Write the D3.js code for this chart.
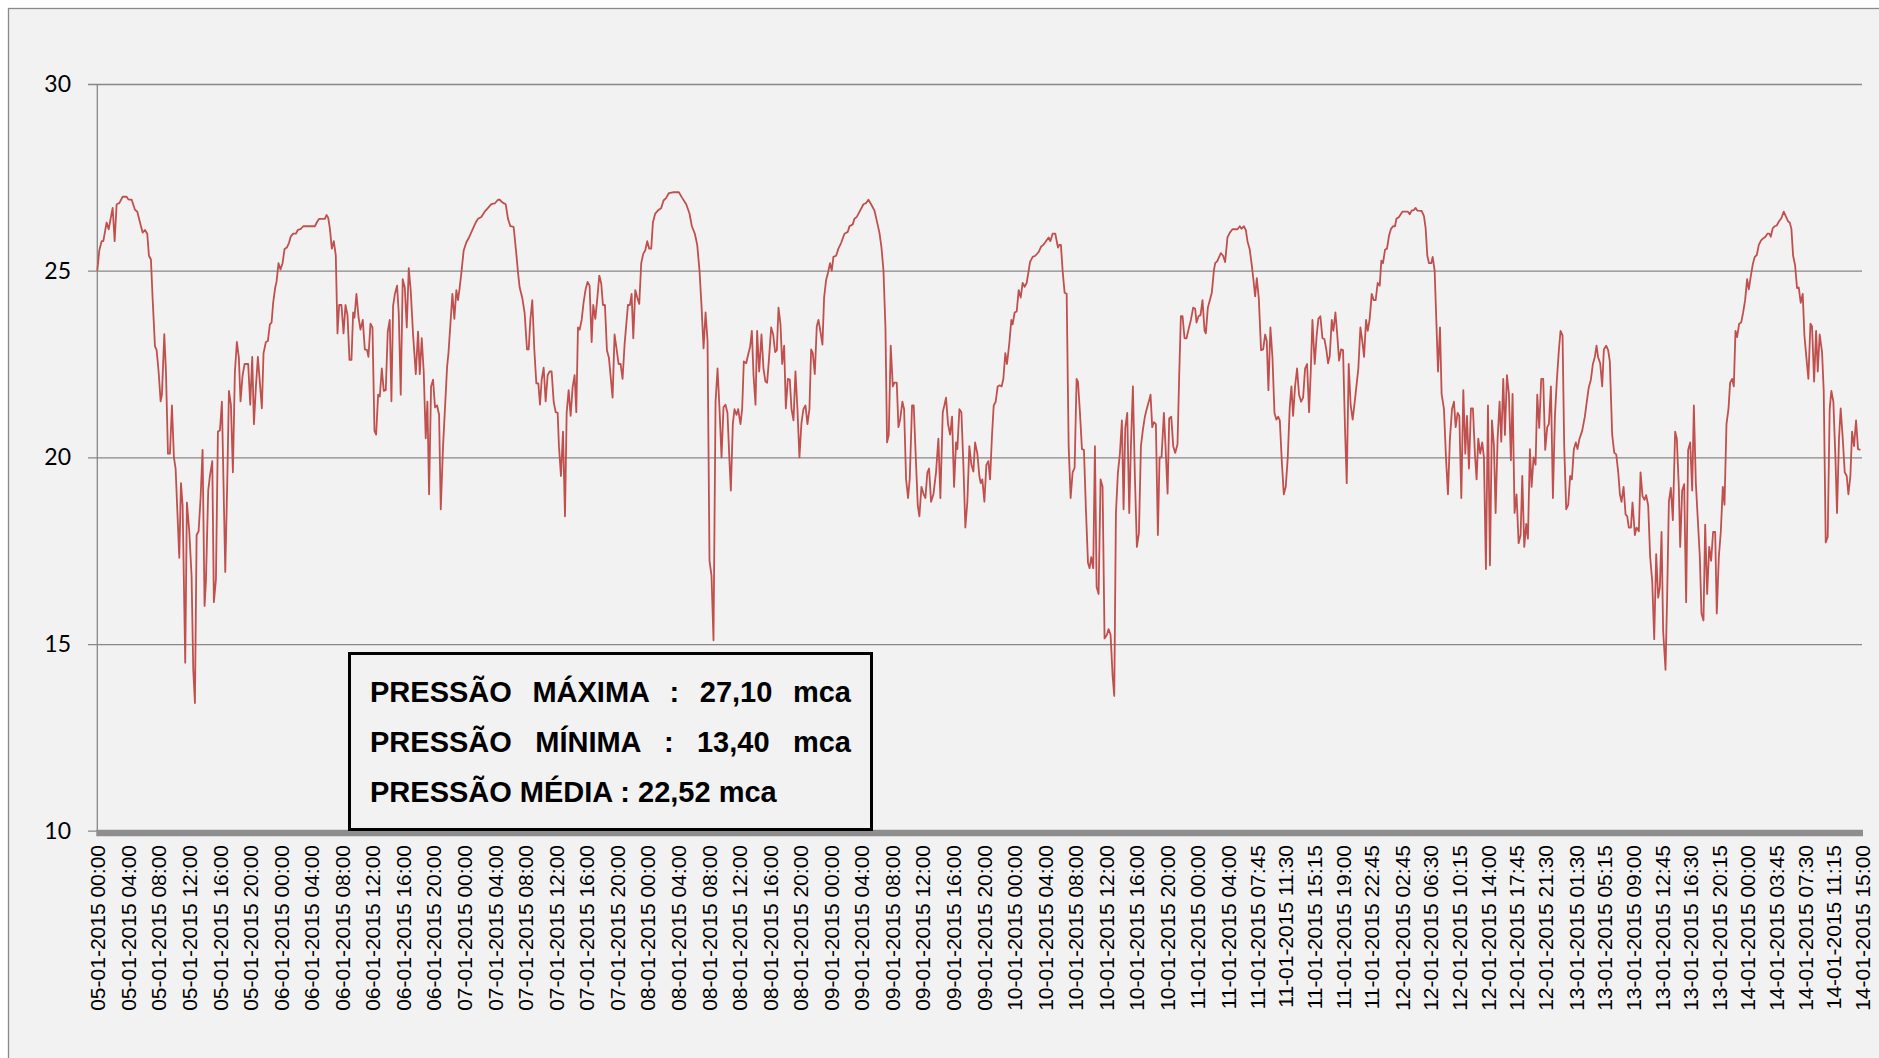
<!DOCTYPE html>
<html><head><meta charset="utf-8">
<script src="https://cdn.jsdelivr.net/npm/d3@7"></script>
<style>html,body{margin:0;padding:0;background:#fff;overflow:hidden}</style>
</head><body>
<svg id="c" width="1879" height="1058"></svg>
<script>
// ---- data ----
const yTicks = [10, 15, 20, 25, 30];
const tickLabels = [
 "05-01-2015 00:00","05-01-2015 04:00","05-01-2015 08:00","05-01-2015 12:00","05-01-2015 16:00","05-01-2015 20:00",
 "06-01-2015 00:00","06-01-2015 04:00","06-01-2015 08:00","06-01-2015 12:00","06-01-2015 16:00","06-01-2015 20:00",
 "07-01-2015 00:00","07-01-2015 04:00","07-01-2015 08:00","07-01-2015 12:00","07-01-2015 16:00","07-01-2015 20:00",
 "08-01-2015 00:00","08-01-2015 04:00","08-01-2015 08:00","08-01-2015 12:00","08-01-2015 16:00","08-01-2015 20:00",
 "09-01-2015 00:00","09-01-2015 04:00","09-01-2015 08:00","09-01-2015 12:00","09-01-2015 16:00","09-01-2015 20:00",
 "10-01-2015 00:00","10-01-2015 04:00","10-01-2015 08:00","10-01-2015 12:00","10-01-2015 16:00","10-01-2015 20:00",
 "11-01-2015 00:00","11-01-2015 04:00","11-01-2015 07:45","11-01-2015 11:30","11-01-2015 15:15","11-01-2015 19:00","11-01-2015 22:45",
 "12-01-2015 02:45","12-01-2015 06:30","12-01-2015 10:15","12-01-2015 14:00","12-01-2015 17:45","12-01-2015 21:30",
 "13-01-2015 01:30","13-01-2015 05:15","13-01-2015 09:00","13-01-2015 12:45","13-01-2015 16:30","13-01-2015 20:15",
 "14-01-2015 00:00","14-01-2015 03:45","14-01-2015 07:30","14-01-2015 11:15","14-01-2015 15:00"
];
const startLabel = "05-01-2015 00:00";
const endLabel = "14-01-2015 15:00";
// [hours since 05-01-2015 00:00, pressure (mca)]
const seg1 = [[0,25.0],[0.26,25.54],[0.57,25.79],[0.79,25.79],[1.22,26.29],[1.49,26.11],[2.01,26.68],[2.27,25.79],[2.53,26.78],[2.88,26.81],[3.32,26.98],[3.84,26.98],[4.06,26.91],[4.5,26.9],[4.93,26.63],[5.24,26.58],[5.59,26.29],[5.93,26.02],[6.24,26.09],[6.54,25.99],[6.76,25.4],[7.02,25.3],[7.24,24.26],[7.55,22.97],[7.77,22.87],[8.03,22.28],[8.29,21.5],[8.46,21.68],[8.77,23.3],[8.99,22.28],[9.25,20.1],[9.51,20.1],[9.77,21.39],[10.03,20.0],[10.25,19.7],[10.73,17.31],[10.95,19.31],[11.17,18.71],[11.51,14.5],[11.73,18.79],[12.04,18.02],[12.34,16.83],[12.56,14.31],[12.78,13.42],[13.0,17.92],[13.26,18.02],[13.52,18.91],[13.78,20.2],[14.04,16.02],[14.22,16.68],[14.52,19.11],[14.74,19.5],[15.05,19.9],[15.26,16.12],[15.53,16.73],[15.79,20.69],[16.05,20.72],[16.31,21.49],[16.75,16.93],[17.01,19.31],[17.23,21.78],[17.49,21.41],[17.75,19.6],[18.01,22.28],[18.27,23.09],[18.53,22.67],[18.75,21.5],[19.01,22.18],[19.28,22.5],[19.75,22.5],[20.02,21.41],[20.28,22.69],[20.5,20.89],[20.76,21.88],[21.02,22.69],[21.54,21.31],[21.76,22.79],[22.07,23.09],[22.33,23.12],[22.59,23.56],[22.81,23.61],[23.03,24.16],[23.29,24.55],[23.46,24.7],[23.72,25.2],[23.98,25.03],[24.25,25.2],[24.51,25.58],[24.81,25.62],[25.08,25.74],[25.34,25.92],[25.64,25.99],[25.99,25.99],[26.25,26.09],[26.6,26.11],[26.95,26.19],[28.48,26.19],[28.78,26.31],[29.04,26.39],[29.78,26.39],[30.0,26.49],[30.22,26.42],[30.44,26.14],[30.7,25.59],[30.96,25.79],[31.22,25.4],[31.44,23.32],[31.66,24.08],[31.96,24.08],[32.23,23.32],[32.49,24.08],[32.75,23.81],[33.01,22.61],[33.27,22.61],[33.49,23.88],[33.66,23.74],[33.92,24.38],[34.19,23.76],[34.45,23.42],[34.75,23.68],[35.02,22.89],[35.32,22.87],[35.49,22.69],[35.76,23.58],[36.02,23.48],[36.28,20.71],[36.5,20.61],[36.76,21.68],[36.98,21.63],[37.24,22.38],[37.5,21.78],[37.76,21.8],[38.02,23.37],[38.28,23.68],[38.5,21.5],[38.72,24.06],[38.94,24.36],[39.24,24.6],[39.46,23.86],[39.72,21.68],[39.98,24.77],[40.25,24.55],[40.51,23.48],[40.77,25.07],[41.03,24.46],[41.34,23.27],[41.69,22.23],[41.99,23.37],[42.21,22.23],[42.47,23.19],[42.73,22.28],[42.99,20.51],[43.21,21.49],[43.43,19.01],[43.69,21.9],[43.95,22.08],[44.21,21.34],[44.48,21.39],[44.74,21.14],[44.96,18.61],[45.26,20.3],[45.79,22.43],[45.96,22.77],[46.22,23.56],[46.48,24.38],[46.74,23.71],[47.0,24.48],[47.22,24.21],[47.44,24.55]];
const seg2 = [[47.66,24.95],[47.96,25.54],[48.31,25.76],[48.66,25.89],[49.1,26.09],[49.53,26.29],[49.84,26.39],[50.27,26.44],[50.71,26.58],[51.15,26.68],[51.58,26.78],[52.02,26.8],[52.45,26.9],[52.67,26.9],[53.02,26.83],[53.46,26.78],[53.76,26.39],[54.07,26.19],[54.5,26.17],[54.85,25.45],[55.07,24.95],[55.29,24.55],[55.64,24.26],[55.94,23.86],[56.25,22.89],[56.47,22.89],[56.68,23.66],[56.94,24.21],[57.21,22.87],[57.47,21.98],[57.73,21.98],[57.95,21.41],[58.17,22.08],[58.43,22.4],[58.69,21.5],[58.95,22.2],[59.21,22.3],[59.47,22.3],[59.74,21.49],[60.0,21.21],[60.26,21.19],[60.43,20.3],[60.69,19.5],[60.96,20.69],[61.22,18.42],[61.44,21.19],[61.7,21.8],[61.96,21.11],[62.22,21.88],[62.48,22.2],[62.7,21.21],[62.92,23.48],[63.14,23.42],[63.4,23.68],[63.66,24.16],[63.92,24.5],[64.18,24.7],[64.44,24.6],[64.71,23.09],[64.92,24.08],[65.19,23.71],[65.45,24.26],[65.71,24.87],[65.97,24.65],[66.19,24.08],[66.45,24.08],[66.71,22.87],[66.97,22.67],[67.45,21.6],[67.71,23.29],[67.98,22.89],[68.24,22.5],[68.5,22.5],[68.76,22.1],[69.02,23.02],[69.46,24.08],[69.72,24.08],[69.94,24.38],[70.16,23.19],[70.42,24.48],[70.68,24.28],[70.94,24.11],[71.2,25.2],[71.46,25.45],[71.72,25.54],[71.99,25.79],[72.25,25.59],[72.51,25.59],[72.73,26.29],[73.03,26.53],[73.38,26.61],[73.82,26.68],[74.12,26.88],[74.47,26.95],[74.82,27.08],[75.34,27.1],[76.13,27.1],[76.56,26.95],[77.09,26.78],[77.52,26.53],[77.83,26.19],[78.22,25.99],[78.53,25.69],[78.83,25.0],[79.09,24.06],[79.36,22.92],[79.62,23.88],[79.88,23.12],[80.14,17.23],[80.4,16.83],[80.66,15.1],[80.93,21.49],[81.19,22.38],[81.45,21.29],[81.71,20.0],[81.97,21.34],[82.23,21.41],[82.49,21.19],[82.71,20.1],[82.93,19.11],[83.19,20.89],[83.41,21.29],[83.67,21.14],[83.89,21.29],[84.19,20.89],[84.41,21.29],[84.63,22.57],[84.94,22.52],[85.24,22.79],[85.46,22.97],[85.68,23.39],[85.9,22.2],[86.16,21.41],[86.37,23.39],[86.64,22.3],[86.94,23.29],[87.2,22.38],[87.46,22.03],[87.68,22.0],[87.9,22.57],[88.21,23.48],[88.47,23.29],[88.73,22.82],[88.95,22.87],[89.17,24.01],[89.43,23.56],[89.65,22.5],[89.91,22.99],[90.13,21.31],[90.39,22.1],[90.65,22.08],[90.87,21.29],[91.13,20.99],[91.39,22.3],[91.65,21.29],[91.91,20.0],[92.17,20.91],[92.43,21.29],[92.7,21.39],[92.96,20.89],[93.22,21.29],[93.44,22.89],[93.66,22.79],[93.92,22.23],[94.18,23.51],[94.4,23.68],[94.66,23.37],[94.92,23.02],[95.14,24.28],[95.4,24.75],[95.66,24.95],[95.92,25.2],[96.14,25.0],[96.36,25.37],[96.71,25.4],[97.01,25.59]];
const seg3 = [[97.36,25.74],[97.8,25.99],[98.24,26.04],[98.46,26.19],[98.89,26.24],[99.11,26.39],[99.42,26.44],[99.85,26.61],[100.29,26.78],[100.64,26.81],[100.94,26.9],[101.29,26.78],[101.73,26.61],[102.03,26.34],[102.38,26.02],[102.64,25.64],[102.91,25.0],[103.17,23.47],[103.38,20.4],[103.6,20.6],[103.86,22.99],[104.13,21.9],[104.34,22.0],[104.65,22.0],[104.87,20.81],[105.09,21.01],[105.39,21.49],[105.61,21.29],[105.87,19.41],[106.13,18.91],[106.35,19.43],[106.65,21.39],[106.87,21.39],[107.18,19.8],[107.4,18.71],[107.61,18.42],[107.88,19.21],[108.14,19.03],[108.4,18.91],[108.66,19.6],[108.88,19.7],[109.14,18.81],[109.45,19.01],[109.79,19.6],[110.1,20.5],[110.36,18.91],[110.67,21.21],[110.88,21.39],[111.1,21.6],[111.36,20.89],[111.63,20.61],[111.89,21.09],[112.15,19.21],[112.41,20.4],[112.58,20.22],[112.85,21.29],[113.11,21.21],[113.37,19.8],[113.63,18.12],[113.89,18.81],[114.15,20.3],[114.42,19.8],[114.68,19.62],[114.9,20.4],[115.2,20.1],[115.46,19.5],[115.64,19.31],[115.85,19.41],[116.12,18.81],[116.38,19.8],[116.64,19.9],[116.86,19.41],[117.12,20.6],[117.34,21.39],[117.6,21.49],[117.86,21.9],[118.12,21.93],[118.38,21.9],[118.6,22.1],[118.86,22.79],[119.08,22.5],[119.39,23.07],[119.65,23.68],[119.82,23.56],[120.08,23.88],[120.35,23.91],[120.61,24.48],[120.87,24.28],[121.13,24.67],[121.39,24.57],[121.65,24.67],[121.92,25.0],[122.09,25.23],[122.44,25.37],[122.79,25.4],[123.22,25.5],[123.53,25.64],[123.83,25.69],[124.18,25.79],[124.53,25.89],[124.75,25.79],[125.05,25.99],[125.4,25.99],[125.75,25.62],[125.93,25.69],[126.14,25.69],[126.36,25.0],[126.62,24.41],[126.89,24.38],[127.15,20.3],[127.41,18.91],[127.67,19.6],[127.93,19.72],[128.19,22.1],[128.37,22.03],[128.63,21.19],[128.89,20.22],[129.15,20.2],[129.41,18.61],[129.68,17.18],[129.89,17.03],[130.11,17.33],[130.37,17.03],[130.59,20.3],[130.81,16.53],[131.07,16.34],[131.33,19.41],[131.59,19.21],[131.85,15.15],[132.16,15.25],[132.38,15.4],[132.64,15.25],[132.9,14.16],[133.12,13.61],[133.34,18.51],[133.6,19.6],[133.86,20.1],[134.12,20.99],[134.34,18.61],[134.56,20.79],[134.82,21.19],[135.08,18.51],[135.3,20.3],[135.56,21.9],[135.82,19.5],[136.08,17.6],[136.35,17.97],[136.61,20.3],[136.87,20.74],[137.13,21.09],[137.39,21.31],[137.65,21.5],[137.87,21.68],[138.09,20.81],[138.31,20.94],[138.57,20.89],[138.83,17.92],[139.05,20.0],[139.31,20.0],[139.62,21.19],[139.83,20.3],[140.1,19.03],[140.31,21.04],[140.58,21.09],[140.84,20.3],[141.1,20.12],[141.4,20.35],[141.62,22.18],[141.84,23.78],[142.06,23.78],[142.32,23.19],[142.58,23.19],[142.84,23.42],[143.15,23.68],[143.45,24.01],[143.71,23.98],[143.89,23.61],[144.15,23.78],[144.41,23.81],[144.67,24.21],[144.94,23.39],[145.11,23.32],[145.37,24.01],[145.63,24.21],[145.89,24.41],[146.16,25.0],[146.33,25.2],[146.59,25.25]];
const seg4 = [[147.07,25.47],[147.37,25.4],[147.63,25.23],[147.94,25.89],[148.25,26.02],[148.59,26.11],[149.25,26.11],[149.55,26.19],[149.77,26.12],[150.08,26.19],[150.34,26.09],[150.56,25.79],[150.86,25.56],[151.12,25.15],[151.34,24.75],[151.56,24.31],[151.78,24.8],[152.04,24.26],[152.34,22.87],[152.61,22.89],[152.87,23.29],[153.08,23.12],[153.3,21.8],[153.56,23.48],[153.83,22.67],[154.09,21.19],[154.35,21.01],[154.57,21.09],[154.79,20.99],[155.05,19.9],[155.31,19.01],[155.57,19.21],[155.83,20.0],[156.09,21.34],[156.31,21.9],[156.53,21.11],[156.79,21.9],[157.05,22.38],[157.31,21.68],[157.58,21.49],[157.84,21.6],[158.1,22.38],[158.36,22.5],[158.62,21.21],[158.84,22.28],[159.06,23.68],[159.36,22.5],[159.62,23.27],[159.84,23.71],[160.1,23.78],[160.37,23.19],[160.63,23.17],[160.89,22.87],[161.11,22.52],[161.33,22.72],[161.59,23.68],[161.8,23.39],[162.07,23.88],[162.28,23.37],[162.55,22.59],[162.81,22.89],[163.07,22.87],[163.33,20.74],[163.55,19.31],[163.81,22.5],[164.07,21.39],[164.33,21.01],[164.6,21.49],[164.86,21.98],[165.07,22.38],[165.34,23.48],[165.6,23.09],[165.82,22.69],[166.08,23.68],[166.3,23.39],[166.56,23.71],[166.82,24.38],[167.08,24.21],[167.34,24.21],[167.6,24.67],[167.87,24.6],[168.08,25.27],[168.3,25.2],[168.56,25.56],[168.82,25.59],[169.09,25.94],[169.35,26.12],[169.61,26.19],[169.87,26.19],[170.05,26.39],[170.39,26.44],[170.83,26.58],[171.57,26.58],[171.79,26.51],[172.05,26.61],[172.36,26.63],[172.57,26.68],[172.79,26.61],[173.36,26.6],[173.66,26.46],[173.88,26.14],[174.1,25.4],[174.32,25.2],[174.62,25.2],[174.8,25.37],[175.06,25.0],[175.28,23.66],[175.5,22.3],[175.76,23.48],[175.97,21.7],[176.28,21.29],[176.54,20.0],[176.8,19.01],[177.06,20.5],[177.33,21.29],[177.59,21.49],[177.81,20.81],[178.07,21.19],[178.29,21.11],[178.55,18.91],[178.81,21.8],[179.07,20.1],[179.29,21.11],[179.55,19.7],[179.81,21.31],[180.07,21.31],[180.33,20.1],[180.55,19.41],[180.77,20.5],[181.03,20.1],[181.29,20.4],[181.51,20.0],[181.77,17.01],[182.04,21.39],[182.3,17.11],[182.56,20.99],[182.82,20.3],[183.04,18.51],[183.3,20.5],[183.56,21.49],[183.78,20.42],[184.04,22.1],[184.26,20.6],[184.52,22.2],[184.78,21.7],[185.04,19.92],[185.26,21.7],[185.52,18.51],[185.78,19.01],[186.05,17.7],[186.31,17.92],[186.53,19.5],[186.79,17.6],[187.05,18.22],[187.27,17.82],[187.53,20.22],[187.75,19.21],[188.01,20.0],[188.27,19.8],[188.49,21.68],[188.75,20.79],[189.01,22.1],[189.27,22.1],[189.53,20.2],[189.8,20.81],[190.01,20.89],[190.28,21.9],[190.54,18.91],[190.8,21.09],[191.06,22.08],[191.32,22.87],[191.54,23.39],[191.8,23.27],[192.02,20.3],[192.28,18.61],[192.54,18.73],[192.8,19.5],[193.02,19.41],[193.28,20.22],[193.54,20.4],[193.76,20.22],[194.02,20.5],[194.37,20.71],[194.72,21.09],[194.98,21.5],[195.24,21.88],[195.51,22.08],[195.77,22.5],[196.03,22.69],[196.25,22.99],[196.47,22.67],[196.73,22.52],[196.99,21.9],[197.21,22.89],[197.51,22.99],[197.77,22.87],[197.99,22.57]];
const seg5 = [[198.3,20.6],[198.57,20.12],[198.83,20.08],[199.09,19.6],[199.31,19.01],[199.52,18.81],[199.79,19.21],[200.05,18.47],[200.27,18.42],[200.48,18.12],[200.75,18.12],[200.96,18.79],[201.27,17.92],[201.49,18.12],[201.79,18.02],[202.01,19.6],[202.27,18.96],[202.53,18.86],[202.75,18.99],[203.01,18.71],[203.27,17.33],[203.54,16.68],[203.8,15.13],[204.06,17.41],[204.32,16.24],[204.54,16.53],[204.76,18.0],[204.97,15.35],[205.28,14.31],[205.5,16.34],[205.72,18.81],[205.98,19.18],[206.24,18.32],[206.54,20.69],[206.76,20.5],[207.02,19.21],[207.2,17.6],[207.46,19.11],[207.72,19.28],[207.98,16.12],[208.24,20.2],[208.51,20.4],[208.77,19.11],[208.99,21.39],[209.25,19.31],[209.51,18.32],[209.77,17.33],[209.99,15.82],[210.25,15.63],[210.47,18.2],[210.73,16.34],[211.0,17.6],[211.25,17.23],[211.51,18.0],[211.78,18.0],[211.99,15.82],[212.26,17.33],[212.52,18.02],[212.78,19.21],[213.0,18.73],[213.26,20.89],[213.52,21.29],[213.74,22.0],[214.0,22.1],[214.22,21.9],[214.44,23.39],[214.65,23.22],[214.92,23.58],[215.18,23.61],[215.44,23.88],[215.7,24.21],[215.96,24.77],[216.18,24.5],[216.44,24.85],[216.7,25.17],[216.97,25.37],[217.23,25.42],[217.49,25.69],[217.79,25.81],[218.1,25.87],[218.36,25.91],[218.62,25.99],[218.88,25.99],[219.06,25.91],[219.32,26.14],[219.58,26.19],[219.84,26.21],[220.1,26.31],[220.45,26.41],[220.76,26.58],[221.06,26.44],[221.33,26.32],[221.54,26.29],[221.76,26.12],[221.98,25.4],[222.24,25.15],[222.5,24.53],[222.72,24.55],[222.98,24.14],[223.24,24.38],[223.46,23.27],[223.72,22.67],[223.98,22.1],[224.25,23.58],[224.46,23.51],[224.73,22.03],[224.99,23.39],[225.21,22.3],[225.46,23.29],[225.77,22.82],[225.99,21.78],[226.25,17.72],[226.51,17.87],[226.77,21.29],[226.99,21.78],[227.25,21.49],[227.52,20.0],[227.73,18.51],[227.99,20.5],[228.21,21.31],[228.48,20.5],[228.74,19.6],[229.0,19.5],[229.22,19.01],[229.48,19.5],[229.7,20.69],[229.96,20.3],[230.22,20.99],[230.48,20.22],[230.79,20.2]];
const legendLines = ["PRESSÃO MÁXIMA : 27,10 mca", "PRESSÃO MÍNIMA : 13,40 mca", "PRESSÃO MÉDIA : 22,52 mca"];

// ---- chart ----
const svg = d3.select("#c");
const parse = d3.timeParse("%d-%m-%Y %H:%M");
const t0 = parse(startLabel), t1 = parse(endLabel);
const data = [seg1, seg2, seg3, seg4, seg5].flat().map(([h, v]) => ({date: new Date(t0.getTime() + h * 3600e3), v}));

const L = 97.3, R = 1862, T = 84, B = 830.7;
const x = d3.scaleTime().domain([t0, t1]).range([L, R]);
const y = d3.scaleLinear().domain([10, 30]).range([B, T]);

// chart area
svg.append("rect").attr("x", 8.5).attr("y", 8.5).attr("width", 1900).attr("height", 1100)
  .attr("fill", "#f2f2f2").attr("stroke", "#8a8a8a").attr("stroke-width", 1.3);

// y axis with gridlines
const gy = svg.append("g").attr("transform", `translate(88,0)`)
  .call(d3.axisLeft(y).tickValues(yTicks).tickFormat(d3.format("d")).tickSizeInner(-(R - 88)).tickSizeOuter(0).tickPadding(17));
gy.select(".domain").remove();
gy.selectAll(".tick line").attr("stroke", "#878787").attr("stroke-width", 1.3);
gy.selectAll(".tick text").attr("fill", "#000").style("font-family", "Lato, 'Open Sans', sans-serif").style("font-size", "23px");

svg.append("line").attr("x1", L).attr("x2", L).attr("y1", T).attr("y2", B)
  .attr("stroke", "#878787").attr("stroke-width", 1.3);

// data line
svg.append("path").datum(data)
  .attr("d", d3.line().x(d => x(d.date)).y(d => y(d.v)))
  .attr("fill", "none").attr("stroke", "#c0504d").attr("stroke-width", 1.8)
  .attr("stroke-linejoin", "round");

// x axis bar
svg.append("line").attr("x1", L - 1).attr("x2", R + 1).attr("y1", B + 2.3).attr("y2", B + 2.3)
  .attr("stroke", "#8e8e8e").attr("stroke-width", 6.5);

// x axis labels
const tickDates = tickLabels.map(parse);
const gx = svg.append("g").attr("transform", `translate(0,845)`)
  .call(d3.axisBottom(x).tickValues(tickDates).tickFormat((d, i) => tickLabels[i]).tickSize(0));
gx.select(".domain").remove();
gx.selectAll(".tick text")
  .attr("x", 0).attr("y", 0).attr("dy", "0.36em")
  .attr("transform", "rotate(-90)")
  .style("text-anchor", "end")
  .attr("fill", "#000")
  .style("font-family", "'Liberation Sans', Arial, sans-serif")
  .style("font-size", "21px");

// legend box
svg.append("rect").attr("x", 349.5).attr("y", 653.5).attr("width", 522).attr("height", 176)
  .attr("fill", "#f2f2f2").attr("stroke", "#000").attr("stroke-width", 3);
const lt = svg.append("g").style("font-family", "'Liberation Sans', Arial, sans-serif")
  .style("font-size", "29px").style("font-weight", "bold");
const baselines = [701.7, 751.7, 801.7];
legendLines.forEach((s, i) => {
  const t = lt.append("text").attr("x", 370).attr("y", baselines[i]).attr("fill", "#000").text(s);
  if (i < 2) {
    const w = t.node().getComputedTextLength();
    const gaps = s.split(" ").length - 1;
    t.attr("word-spacing", (481 - w) / gaps);
  }
});
</script>
</body></html>
